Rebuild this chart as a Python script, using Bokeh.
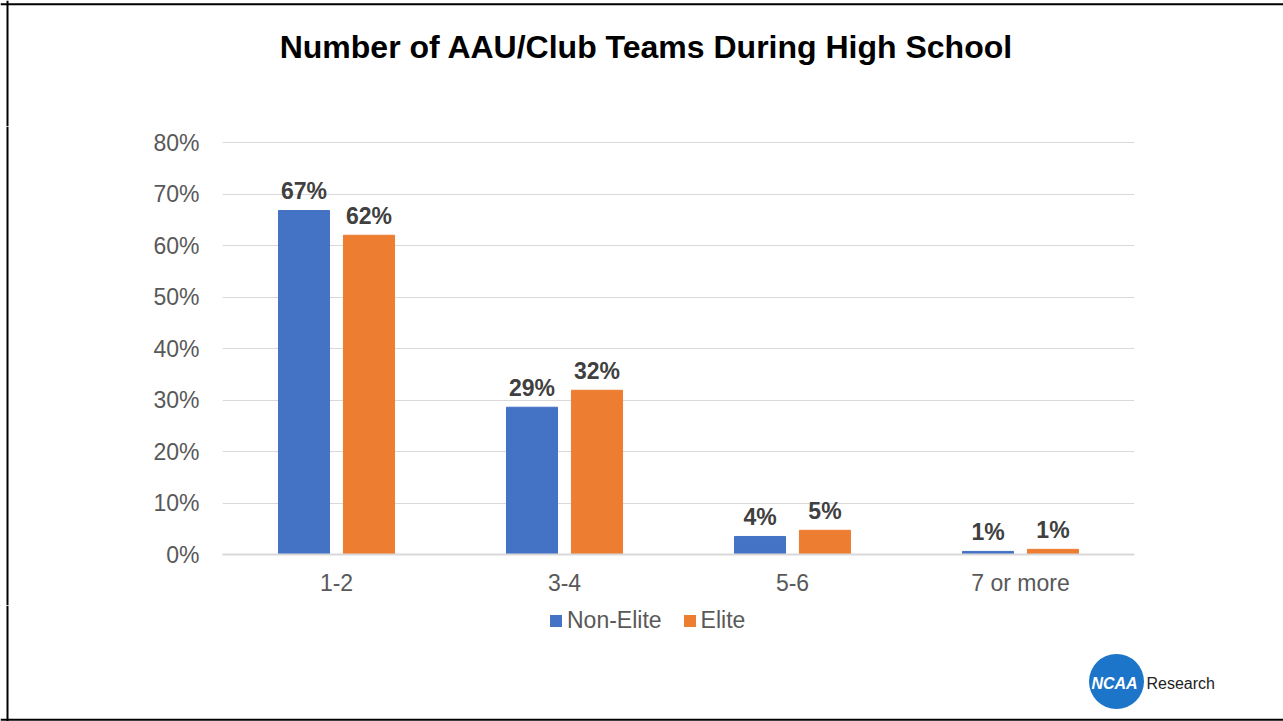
from bokeh.plotting import figure
from bokeh.layouts import column, row
from bokeh.models import (ColumnDataSource, FactorRange, Range1d, Label, Legend, LegendItem,
                          Span, PrintfTickFormatter, FixedTicker)
from bokeh.transform import dodge
from bokeh.core.properties import value
from bokeh.embed import file_html
from bokeh.resources import INLINE

# ---- data ----
categories = ["1-2", "3-4", "5-6", "7 or more"]
non_elite = [66.8, 28.6, 3.5, 0.6]
elite = [62.0, 31.9, 4.7, 1.0]
non_elite_labels = ["67%", "29%", "4%", "1%"]
elite_labels = ["62%", "32%", "5%", "1%"]
y_ticks = [0, 10, 20, 30, 40, 50, 60, 70, 80]
series_names = ["Non-Elite", "Elite"]
title_text = "Number of AAU/Club Teams During High School"

FONT = "Liberation Sans"
BLUE = "#4472C4"
ORANGE = "#ED7D31"
W, H = 1283, 721
TOP_H, MAIN_H = 126, 479
BOT_H = H - TOP_H - MAIN_H
STRIP_W = 10


def blank(width, height, y0, y1):
    f = figure(width=width, height=height, x_range=Range1d(0, width),
               y_range=Range1d(y1, y0), x_axis_type=None, y_axis_type=None,
               output_backend="svg", toolbar_location=None, min_border=0,
               background_fill_color="white", border_fill_color="white")
    f.outline_line_color = None
    return f


# ---- top strip: title + page frame ----
top = blank(W, TOP_H, 0, TOP_H)
top.add_layout(Label(x=646, y=46, text=title_text, text_align="center",
                     text_baseline="alphabetic", text_font=FONT, text_font_style="bold",
                     text_font_size="32px", text_color="black"))
top.add_layout(Span(location=3.7, dimension="width", line_color="black", line_width=2))
top.add_layout(Span(location=7, dimension="height", line_color="black", line_width=2))

# ---- left strip: page frame ----
strip = blank(STRIP_W, MAIN_H, 0, MAIN_H)
strip.add_layout(Span(location=7, dimension="height", line_color="black", line_width=2))

# ---- main chart ----
src = ColumnDataSource(dict(cat=categories, ne=non_elite, el=elite,
                            ne_lab=non_elite_labels, el_lab=elite_labels))

p = figure(width=W - STRIP_W, height=MAIN_H,
           x_range=FactorRange(*categories, range_padding=0),
           y_range=Range1d(0, 80.4), output_backend="svg", toolbar_location=None,
           min_border_left=222 - STRIP_W, min_border_right=W - 1134,
           min_border_top=14, min_border_bottom=TOP_H + MAIN_H - 554,
           background_fill_color="white", border_fill_color="white")
p.outline_line_color = None

p.vbar(x=dodge("cat", -0.1425, range=p.x_range), top="ne", width=0.224,
       source=src, fill_color=BLUE, line_color=BLUE)
p.vbar(x=dodge("cat", 0.1425, range=p.x_range), top="el", width=0.224,
       source=src, fill_color=ORANGE, line_color=ORANGE)

for off, col, lab in [(-0.1425, "ne", "ne_lab"), (0.1425, "el", "el_lab")]:
    p.text(x=dodge("cat", off, range=p.x_range), y=dodge(col, 3.8, range=p.y_range),
           text=lab, source=src, text_align="center", text_baseline="alphabetic",
           text_font=value(FONT), text_font_style="bold", text_font_size="23px",
           text_color="#404040")

p.yaxis.ticker = FixedTicker(ticks=y_ticks)
p.yaxis.formatter = PrintfTickFormatter(format="%d%%")
p.yaxis.axis_line_color = None
p.yaxis.major_tick_line_color = None
p.yaxis.minor_tick_line_color = None
p.yaxis.major_tick_out = 0
p.yaxis.major_label_standoff = 23
p.yaxis.major_label_text_font = FONT
p.yaxis.major_label_text_font_size = "23px"
p.yaxis.major_label_text_color = "#595959"

p.xaxis.axis_line_color = "#D9D9D9"
p.xaxis.axis_line_width = 2
p.xaxis.major_tick_line_color = None
p.xaxis.minor_tick_line_color = None
p.xaxis.major_tick_out = 0
p.xaxis.major_label_standoff = 15
p.xaxis.major_label_text_font = FONT
p.xaxis.major_label_text_font_size = "23px"
p.xaxis.major_label_text_color = "#595959"

p.xgrid.grid_line_color = None
p.ygrid.grid_line_color = "#D9D9D9"
p.ygrid.grid_line_width = 1

# ---- bottom strip: legend, logo, page frame ----
bot = blank(W, BOT_H, TOP_H + MAIN_H, H)
# legend keys (kept outside the visible range; only their legend swatches show)
key_ne = bot.vbar(x=[-500], top=[-500], width=1, fill_color=BLUE, line_color=None)
key_el = bot.vbar(x=[-500], top=[-500], width=1, fill_color=ORANGE, line_color=None)
legend = Legend(items=[LegendItem(label=series_names[0], renderers=[key_ne]),
                       LegendItem(label=series_names[1], renderers=[key_el])],
                orientation="horizontal", location=(548, H - 634), padding=0, margin=0,
                spacing=20, label_standoff=4, glyph_width=15, glyph_height=15,
                label_text_font=FONT, label_text_font_size="23px",
                label_text_color="#595959", border_line_color=None,
                background_fill_alpha=0)
bot.add_layout(legend, "center")

bot.scatter(x=[1116], y=[681], size=55, marker="circle", fill_color="#1C75C8",
            line_color=None)
bot.add_layout(Label(x=1114, y=683, text="NCAA", text_align="center",
                     text_baseline="middle", text_font=FONT,
                     text_font_style="bold italic", text_font_size="16px",
                     text_color="white"))
bot.add_layout(Label(x=1146, y=683, text="Research", text_align="left",
                     text_baseline="middle", text_font=FONT, text_font_size="16px",
                     text_color="#222222"))
bot.add_layout(Span(location=7, dimension="height", line_color="black", line_width=2))
bot.add_layout(Span(location=719.3, dimension="width", line_color="black", line_width=2))

for f in (top, strip, p, bot):
    if "frame_align" in f.properties():
        f.frame_align = False

layout = column(top, row(strip, p), bot)
open("out.html", "w").write(file_html(layout, INLINE))
